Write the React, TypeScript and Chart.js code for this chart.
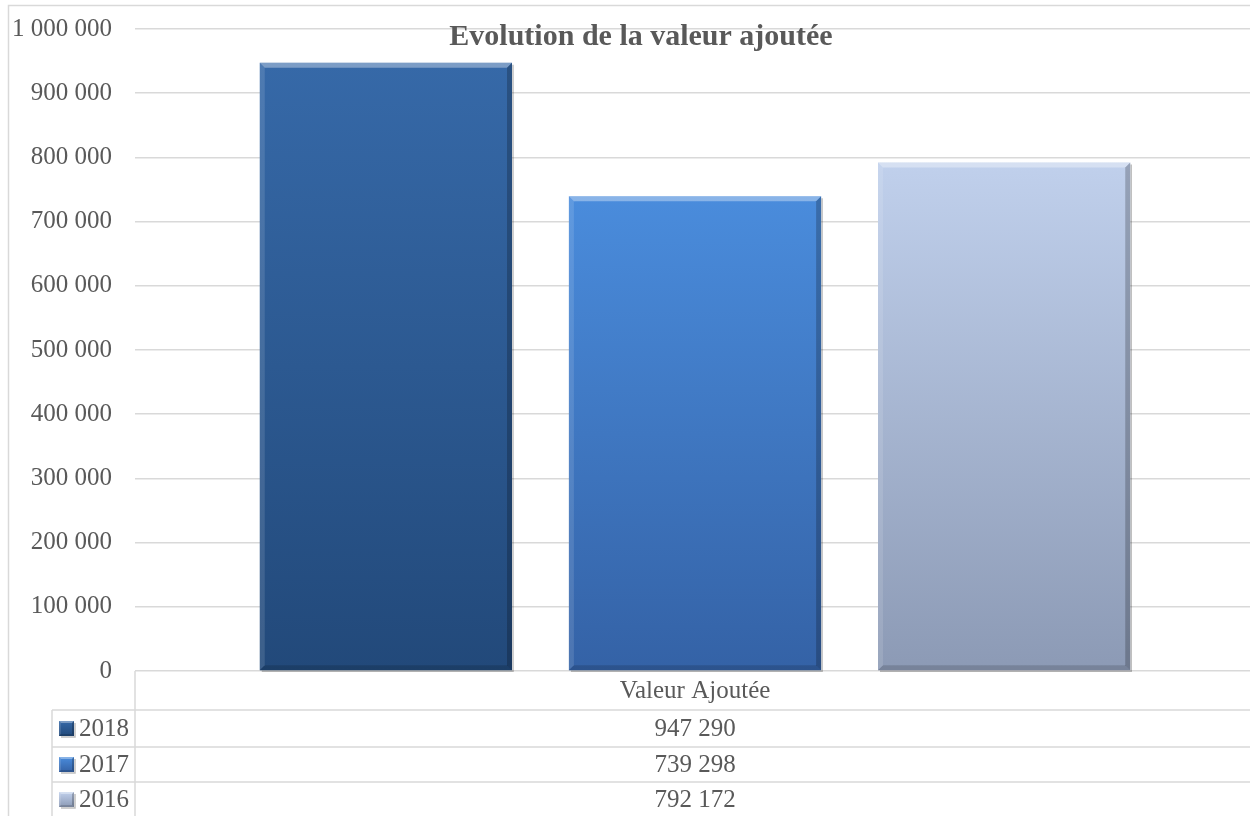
import React, { useEffect, useRef } from "react";
import { Chart, registerables } from "chart.js";

Chart.register(...registerables);

const categories = ["Valeur Ajoutée"];
const seriesNames = ["2018", "2017", "2016"];
const values2018 = [947290];
const values2017 = [739298];
const values2016 = [792172];
const yMin = 0;
const yMax = 1000000;
const yStep = 100000;
const chartTitle = "Evolution de la valeur ajoutée";

const seriesValues = [values2018, values2017, values2016];
const gradTop = ["#3669a8", "#4a8cdc", "#c0d0ec"];
const gradBottom = ["#22497a", "#3462a6", "#8c9ab5"];

const FONT = '"Liberation Serif", "DejaVu Serif", serif';
const TEXT = "#595959";
const LINE = "#d9d9d9";

const fmt = (v: number) => String(Math.round(v)).replace(/\B(?=(\d{3})+(?!\d))/g, " ");

function bevel(ctx: CanvasRenderingContext2D, l: number, t: number, r: number, b: number, s: number) {
  ctx.save();
  ctx.fillStyle = "rgba(255,255,255,0.35)";
  ctx.beginPath();
  ctx.moveTo(l, t); ctx.lineTo(r, t); ctx.lineTo(r - s, t + s); ctx.lineTo(l + s, t + s); ctx.closePath();
  ctx.fill();
  ctx.fillStyle = "rgba(255,255,255,0.12)";
  ctx.beginPath();
  ctx.moveTo(l, t); ctx.lineTo(l + s, t + s); ctx.lineTo(l + s, b - s); ctx.lineTo(l, b); ctx.closePath();
  ctx.fill();
  ctx.fillStyle = "rgba(0,0,0,0.22)";
  ctx.beginPath();
  ctx.moveTo(r, t); ctx.lineTo(r - s, t + s); ctx.lineTo(r - s, b - s); ctx.lineTo(r, b); ctx.closePath();
  ctx.fill();
  ctx.fillStyle = "rgba(0,0,0,0.15)";
  ctx.beginPath();
  ctx.moveTo(l, b); ctx.lineTo(l + s, b - s); ctx.lineTo(r - s, b - s); ctx.lineTo(r, b); ctx.closePath();
  ctx.fill();
  ctx.strokeStyle = "rgba(0,0,0,0.25)";
  ctx.lineWidth = 1.5;
  ctx.beginPath();
  ctx.moveTo(r + 1, t + 2); ctx.lineTo(r + 1, b + 1); ctx.lineTo(l + 2, b + 1);
  ctx.stroke();
  ctx.restore();
}

const decorPlugin = {
  id: "decor",
  beforeDraw(chart: any) {
    const ctx: CanvasRenderingContext2D = chart.ctx;
    ctx.save();
    ctx.fillStyle = "#ffffff";
    ctx.fillRect(0, 0, chart.width, chart.height);
    ctx.restore();
  },
  afterDatasetsDraw(chart: any) {
    const ctx: CanvasRenderingContext2D = chart.ctx;
    chart.data.datasets.forEach((_: any, i: number) => {
      const meta = chart.getDatasetMeta(i);
      meta.data.forEach((el: any) => {
        const l = el.x - el.width / 2;
        const r = el.x + el.width / 2;
        bevel(ctx, l, el.y, r, el.base, 5);
      });
    });
  },
  afterDraw(chart: any) {
    const ctx: CanvasRenderingContext2D = chart.ctx;
    const area = chart.chartArea;
    const xs = chart.scales.x;
    const H = chart.height;
    const W = chart.width;
    ctx.save();
    ctx.strokeStyle = LINE;
    ctx.lineWidth = 1.5;
    ctx.beginPath();
    ctx.moveTo(8.5, H); ctx.lineTo(8.5, 5.5); ctx.lineTo(W, 5.5);
    ctx.stroke();

    ctx.fillStyle = TEXT;
    ctx.font = `bold 30px ${FONT}`;
    ctx.textAlign = "center";
    ctx.textBaseline = "alphabetic";
    ctx.fillText(chartTitle, 641, 45);

    const rowTops = [area.bottom, 710, 747, 782];
    const keyLeft = 52;
    ctx.strokeStyle = LINE;
    ctx.lineWidth = 1.5;
    ctx.beginPath();
    ctx.moveTo(area.left, area.bottom); ctx.lineTo(area.left, H);
    ctx.moveTo(keyLeft, rowTops[1]); ctx.lineTo(keyLeft, H);
    for (let i = 1; i < rowTops.length; i++) {
      ctx.moveTo(keyLeft, rowTops[i]); ctx.lineTo(W, rowTops[i]);
    }
    ctx.stroke();

    ctx.font = `25px ${FONT}`;
    ctx.fillStyle = TEXT;
    ctx.textAlign = "center";
    ctx.textBaseline = "middle";
    categories.forEach((c, ci) => {
      const cx = xs.getPixelForValue(ci);
      ctx.fillText(c, cx, 691);
      seriesValues.forEach((vals, si) => {
        const y0 = rowTops[si + 1];
        const y1 = si + 2 < rowTops.length ? rowTops[si + 2] : 817;
        ctx.fillText(fmt(vals[ci]), cx, (y0 + y1) / 2 + 1);
      });
    });
    seriesNames.forEach((n, si) => {
      const y0 = rowTops[si + 1];
      const y1 = si + 2 < rowTops.length ? rowTops[si + 2] : 817;
      const cy = (y0 + y1) / 2;
      const kx = 59, ks = 15;
      const g = ctx.createLinearGradient(0, cy - ks / 2, 0, cy + ks / 2);
      g.addColorStop(0, gradTop[si]);
      g.addColorStop(1, gradBottom[si]);
      ctx.fillStyle = g;
      ctx.fillRect(kx, cy - ks / 2, ks, ks);
      bevel(ctx, kx, cy - ks / 2, kx + ks, cy + ks / 2, 2);
      ctx.fillStyle = TEXT;
      ctx.textAlign = "left";
      ctx.fillText(n, 79, cy + 1);
    });
    ctx.restore();
  },
};

export default function App() {
  const ref = useRef<HTMLCanvasElement | null>(null);
  useEffect(() => {
    if (!ref.current) return;
    const chart = new Chart(ref.current, {
      type: "bar",
      data: {
        labels: categories,
        datasets: seriesNames.map((name, i) => ({
          label: name,
          data: seriesValues[i],
          backgroundColor: (c: any) => {
            const chartI = c.chart;
            const area = chartI.chartArea;
            if (!area || c.raw === undefined) return gradTop[i];
            const top = chartI.scales.y.getPixelForValue(c.raw);
            const g = chartI.ctx.createLinearGradient(0, top, 0, area.bottom);
            g.addColorStop(0, gradTop[i]);
            g.addColorStop(1, gradBottom[i]);
            return g;
          },
          borderWidth: 0,
          categoryPercentage: 0.828,
          barPercentage: 0.816,
        })),
      },
      options: {
        responsive: false,
        animation: false,
        layout: { padding: { left: 8, top: 29, right: 5, bottom: 145 } },
        plugins: {
          legend: { display: false },
          title: { display: false },
          tooltip: { enabled: false },
        },
        scales: {
          x: { display: false },
          y: {
            min: yMin,
            max: yMax,
            border: { display: false },
            grid: { color: LINE, lineWidth: 1.5, drawTicks: true, tickLength: 23, tickColor: "rgba(0,0,0,0)" },
            afterFit: (s: any) => { s.width = 127; },
            ticks: {
              stepSize: yStep,
              padding: 0,
              color: TEXT,
              font: { family: FONT, size: 25 },
              callback: (v: any) => fmt(Number(v)),
            },
          },
        },
      },
      plugins: [decorPlugin],
    });
    return () => chart.destroy();
  }, []);
  return (
    <div style={{ position: "fixed", left: 0, top: 0, width: 1250, height: 816, overflow: "hidden", background: "#fff" }}>
      <canvas ref={ref} width={1260} height={816} style={{ display: "block" }} />
    </div>
  );
}
